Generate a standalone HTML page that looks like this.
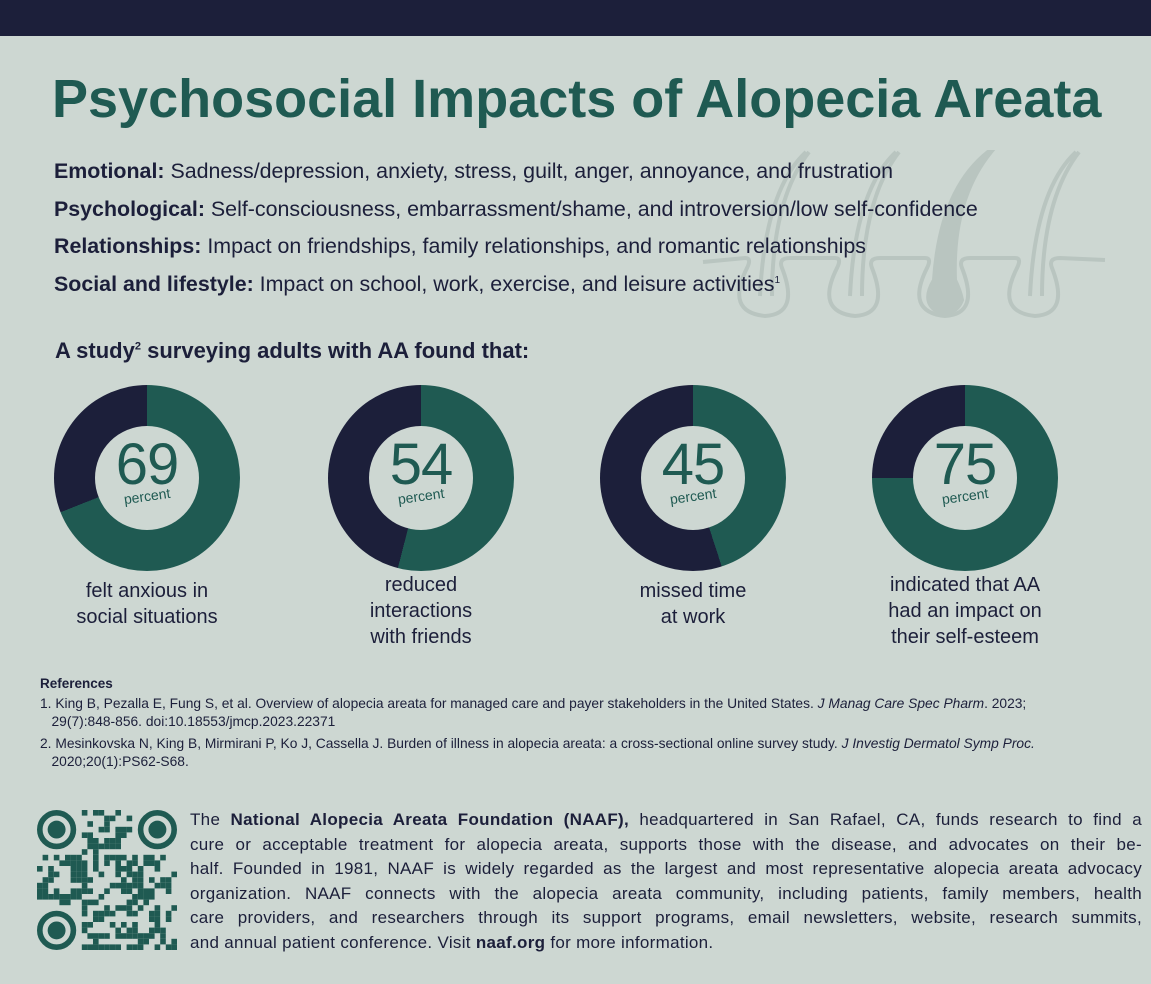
<!DOCTYPE html>
<html><head><meta charset="utf-8">
<style>
*{margin:0;padding:0;box-sizing:border-box}
body{width:1151px;height:984px;background:#cdd7d2;font-family:"Liberation Sans",sans-serif;position:relative;overflow:hidden;color:#1c1f3a}
.bar{position:absolute;left:0;top:0;width:1151px;height:36px;background:#1c1f3a}
h1{position:absolute;left:52px;top:68px;font-size:54px;font-weight:bold;color:#1f5a52;letter-spacing:0px;white-space:nowrap}
.line{position:absolute;left:54px;font-size:21.4px;white-space:nowrap;color:#1c1f3a}
.line b{font-weight:bold}
.donut{position:absolute;width:186px;height:186px;border-radius:50%}
.donut .in{position:absolute;left:41px;top:41px;width:104px;height:104px;border-radius:50%;background:#cdd7d2;text-align:center;color:#1f5a52}
.num{font-size:58px;line-height:58px;margin-top:10px;display:block;letter-spacing:-1px}
.pc{font-size:14px;display:block;transform:rotate(-8deg);margin-top:-6px}
.cap{position:absolute;width:220px;text-align:center;font-size:20px;line-height:26px;color:#1c1f3a}
.ref{position:absolute;left:40px;font-size:13.8px;line-height:18px;color:#1c1f3a;white-space:nowrap}
.para{position:absolute;left:190px;top:808px;width:952px;font-size:17px;letter-spacing:0.3px;line-height:24.6px;color:#1c1f3a}
.para div{text-align:justify;text-align-last:justify;white-space:nowrap;height:24.6px}
.para div.l{text-align-last:left}
</style></head><body>
<div class="bar"></div>
<svg style="position:absolute;left:0;top:0" width="1151" height="400" fill="none" stroke="#b9c5c0" stroke-width="4">
<path d="M703 262 L745 258 Q752 258 747 268 Q725 312 765 316 Q800 314 782 268 Q778 258 790 258 L835 258 Q842 258 837 268 Q815 312 855 316 Q890 314 872 268 Q868 258 880 258 L925 258 Q932 258 927 268 Q905 312 945 316 Q980 314 962 268 Q958 258 970 258 L1015 258 Q1022 258 1017 268 Q995 312 1035 316 Q1070 314 1052 268 Q1048 258 1060 258 L1105 260"/>
<path d="M806 152 Q765 190 760 296 M772 296 Q772 200 809 152"/>
<path d="M896 152 Q855 190 850 296 M862 296 Q862 200 899 152"/>
<path d="M1076 152 Q1035 190 1030 296 M1042 296 Q1042 200 1079 152"/>
<path d="M988 152 Q940 190 934 280 Q922 300 935 310 Q955 318 962 300 Q960 290 955 280 Q952 200 991 152Z" fill="#b9c5c0"/>
</svg>
<h1>Psychosocial Impacts of Alopecia Areata</h1>
<div class="line" style="top:159px"><b>Emotional:</b> Sadness/depression, anxiety, stress, guilt, anger, annoyance, and frustration</div>
<div class="line" style="top:197px"><b>Psychological:</b> Self-consciousness, embarrassment/shame, and introversion/low self-confidence</div>
<div class="line" style="top:234px"><b>Relationships:</b> Impact on friendships, family relationships, and romantic relationships</div>
<div class="line" style="top:272px"><b>Social and lifestyle:</b> Impact on school, work, exercise, and leisure activities<sup style="font-size:10px">1</sup></div>
<div class="line" style="top:338px;left:55px;font-weight:bold;font-size:22px">A study<sup style="font-size:11px">2</sup> surveying adults with AA found that:</div>

<div class="donut" style="left:54px;top:385px;background:conic-gradient(#1f5a52 0 69%,#1c1f3a 69% 100%)"><div class="in"><span class="num">69</span><span class="pc">percent</span></div></div>
<div class="donut" style="left:328px;top:385px;background:conic-gradient(#1f5a52 0 54%,#1c1f3a 54% 100%)"><div class="in"><span class="num">54</span><span class="pc">percent</span></div></div>
<div class="donut" style="left:600px;top:385px;background:conic-gradient(#1f5a52 0 45%,#1c1f3a 45% 100%)"><div class="in"><span class="num">45</span><span class="pc">percent</span></div></div>
<div class="donut" style="left:872px;top:385px;background:conic-gradient(#1f5a52 0 75%,#1c1f3a 75% 100%)"><div class="in"><span class="num">75</span><span class="pc">percent</span></div></div>

<div class="cap" style="left:37px;top:578px">felt anxious in<br>social situations</div>
<div class="cap" style="left:311px;top:572px">reduced<br>interactions<br>with friends</div>
<div class="cap" style="left:583px;top:578px">missed time<br>at work</div>
<div class="cap" style="left:855px;top:572px">indicated that AA<br>had an impact on<br>their self-esteem</div>

<div class="ref" style="top:675px;font-weight:bold;font-size:13.5px">References</div>
<div class="ref" style="top:695px">1. King B, Pezalla E, Fung S, et al. Overview of alopecia areata for managed care and payer stakeholders in the United States. <i>J Manag Care Spec Pharm</i>. 2023;<br>&nbsp;&nbsp;&nbsp;29(7):848-856. doi:10.18553/jmcp.2023.22371</div>
<div class="ref" style="top:735px">2. Mesinkovska N, King B, Mirmirani P, Ko J, Cassella J. Burden of illness in alopecia areata: a cross-sectional online survey study. <i>J Investig Dermatol Symp Proc.</i><br>&nbsp;&nbsp;&nbsp;2020;20(1):PS62-S68.</div>

<svg id="qr" style="position:absolute;left:37px;top:810px" width="140" height="140" viewBox="0 0 25 25" fill="#1f5a52"></svg>

<div class="para">
<div>The <b>National Alopecia Areata Foundation (NAAF),</b> headquartered in San Rafael, CA, funds research to find a</div>
<div>cure or acceptable treatment for alopecia areata, supports those with the disease, and advocates on their be-</div>
<div>half. Founded in 1981, NAAF is widely regarded as the largest and most representative alopecia areata advocacy</div>
<div>organization. NAAF connects with the alopecia areata community, including patients, family members, health</div>
<div>care providers, and researchers through its support programs, email newsletters, website, research summits,</div>
<div class="l">and annual patient conference. Visit <b>naaf.org</b> for more information.</div>
</div>
<script>
var s=document.getElementById('qr'),h='',seed=7;
function r(){seed=(seed*16807)%2147483647;return seed/2147483647;}
function fin(x,y){h+='<circle cx="'+(x+3.5)+'" cy="'+(y+3.5)+'" r="3" fill="none" stroke="#1f5a52" stroke-width="1"/><circle cx="'+(x+3.5)+'" cy="'+(y+3.5)+'" r="1.6"/>';}
for(var y=0;y<25;y++)for(var x=0;x<25;x++){
 if((x<8&&y<8)||(x>16&&y<8)||(x<8&&y>16))continue;
 if(r()<0.5)h+='<rect x="'+x+'" y="'+y+'" width="1" height="1"/>';
}
fin(0,0);fin(18,0);fin(0,18);
s.innerHTML=h;
</script>
</body></html>
